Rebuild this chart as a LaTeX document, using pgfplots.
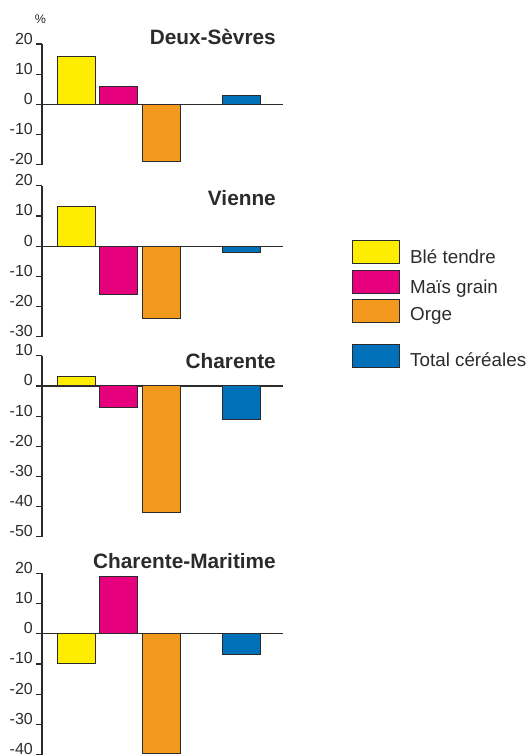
\documentclass[border=0pt]{standalone}
\usepackage{pgfplots}
\pgfplotsset{compat=1.18}
\usepackage{fontspec}
\setmainfont{Liberation Sans}
\definecolor{ble}{HTML}{FFED00}
\definecolor{mais}{HTML}{E6007E}
\definecolor{orge}{HTML}{F39A1E}
\definecolor{total}{HTML}{0070B8}
\definecolor{ink}{HTML}{2B2B2B}

% one axis per departement, 1 px of the reference = 1 pt
\pgfplotsset{
  panel/.style={
    scale only axis, width=241pt, xmin=0, xmax=241,
    anchor=north west, clip=false,
    axis y line*=left, axis x line=middle,
    axis line style={-, ink, line width=1.2pt},
    xtick=\empty, ytick distance=10,
    tick align=outside, major tick length=6pt,
    tick style={ink, line width=1.2pt},
    enlargelimits=false,
    hide obscured x ticks=false, hide obscured y ticks=false,
    /pgf/number format/assume math mode=true,
    yticklabel style={font=\fontsize{16}{16}\selectfont, text=ink,
      anchor=base east, inner sep=0pt, xshift=-3pt},
    every axis plot/.append style={ybar, bar width=38, bar shift=0pt,
      draw=ink, line width=0.9pt},
  },
}
\tikzset{
  titre/.style={anchor=base east, inner sep=0pt, text=ink,
    font=\bfseries\fontsize{20.8}{21}\selectfont},
}

\begin{document}
\begin{tikzpicture}
\path[use as bounding box] (0pt,0pt) rectangle (531pt,-755pt);

\node[anchor=base, inner sep=0pt, text=ink, font=\fontsize{12.5}{13}\selectfont] at (40.5pt,-23pt) {\%};

% Deux-Sevres
\begin{axis}[panel, at={(42pt,-44pt)}, height=120.8pt, ymin=-20, ymax=20]
\addplot[fill=ble] coordinates {(34,16)};
\addplot[fill=mais] coordinates {(76.5,6)};
\addplot[fill=orge] coordinates {(119,-19)};
\addplot[fill=total] coordinates {(199,3)};
\end{axis}
\node[titre] at (276pt,-44pt) {Deux-Sèvres};

% Vienne
\begin{axis}[panel, at={(42pt,-185.7pt)}, height=151pt, ymin=-30, ymax=20]
\addplot[fill=ble] coordinates {(34,13)};
\addplot[fill=mais] coordinates {(76.5,-16)};
\addplot[fill=orge] coordinates {(119,-24)};
\addplot[fill=total] coordinates {(199,-2)};
\end{axis}
\node[titre] at (276pt,-205pt) {Vienne};

% Charente
\begin{axis}[panel, at={(42pt,-355.7pt)}, height=181.2pt, ymin=-50, ymax=10]
\addplot[fill=ble] coordinates {(34,3)};
\addplot[fill=mais] coordinates {(76.5,-7)};
\addplot[fill=orge] coordinates {(119,-42)};
\addplot[fill=total] coordinates {(199,-11)};
\end{axis}
\node[titre] at (276pt,-368.3pt) {Charente};

% Charente-Maritime
\begin{axis}[panel, at={(42pt,-573.3pt)}, height=181.2pt, ymin=-40, ymax=20]
\addplot[fill=ble] coordinates {(34,-10)};
\addplot[fill=mais] coordinates {(76.5,19)};
\addplot[fill=orge] coordinates {(119,-39.5)};
\addplot[fill=total] coordinates {(199,-7)};
\end{axis}
\node[titre] at (276pt,-568.3pt) {Charente-Maritime};

% legende
\begin{scope}[every node/.style={anchor=base west, inner sep=0pt, text=ink,
    font=\fontsize{18.8}{19}\selectfont}]
\filldraw[fill=ble, draw=ink, line width=0.9pt] (352pt,-240pt) rectangle (399pt,-263pt);
\node at (410pt,-263pt) {Blé tendre};
\filldraw[fill=mais, draw=ink, line width=0.9pt] (352pt,-270pt) rectangle (399pt,-293pt);
\node at (410pt,-293pt) {Maïs grain};
\filldraw[fill=orge, draw=ink, line width=0.9pt] (352pt,-299.5pt) rectangle (399pt,-322.5pt);
\node at (410pt,-320pt) {Orge};
\filldraw[fill=total, draw=ink, line width=0.9pt] (352pt,-344pt) rectangle (399pt,-367pt);
\node at (410pt,-366.7pt) {Total céréales};
\end{scope}
\end{tikzpicture}
\end{document}
